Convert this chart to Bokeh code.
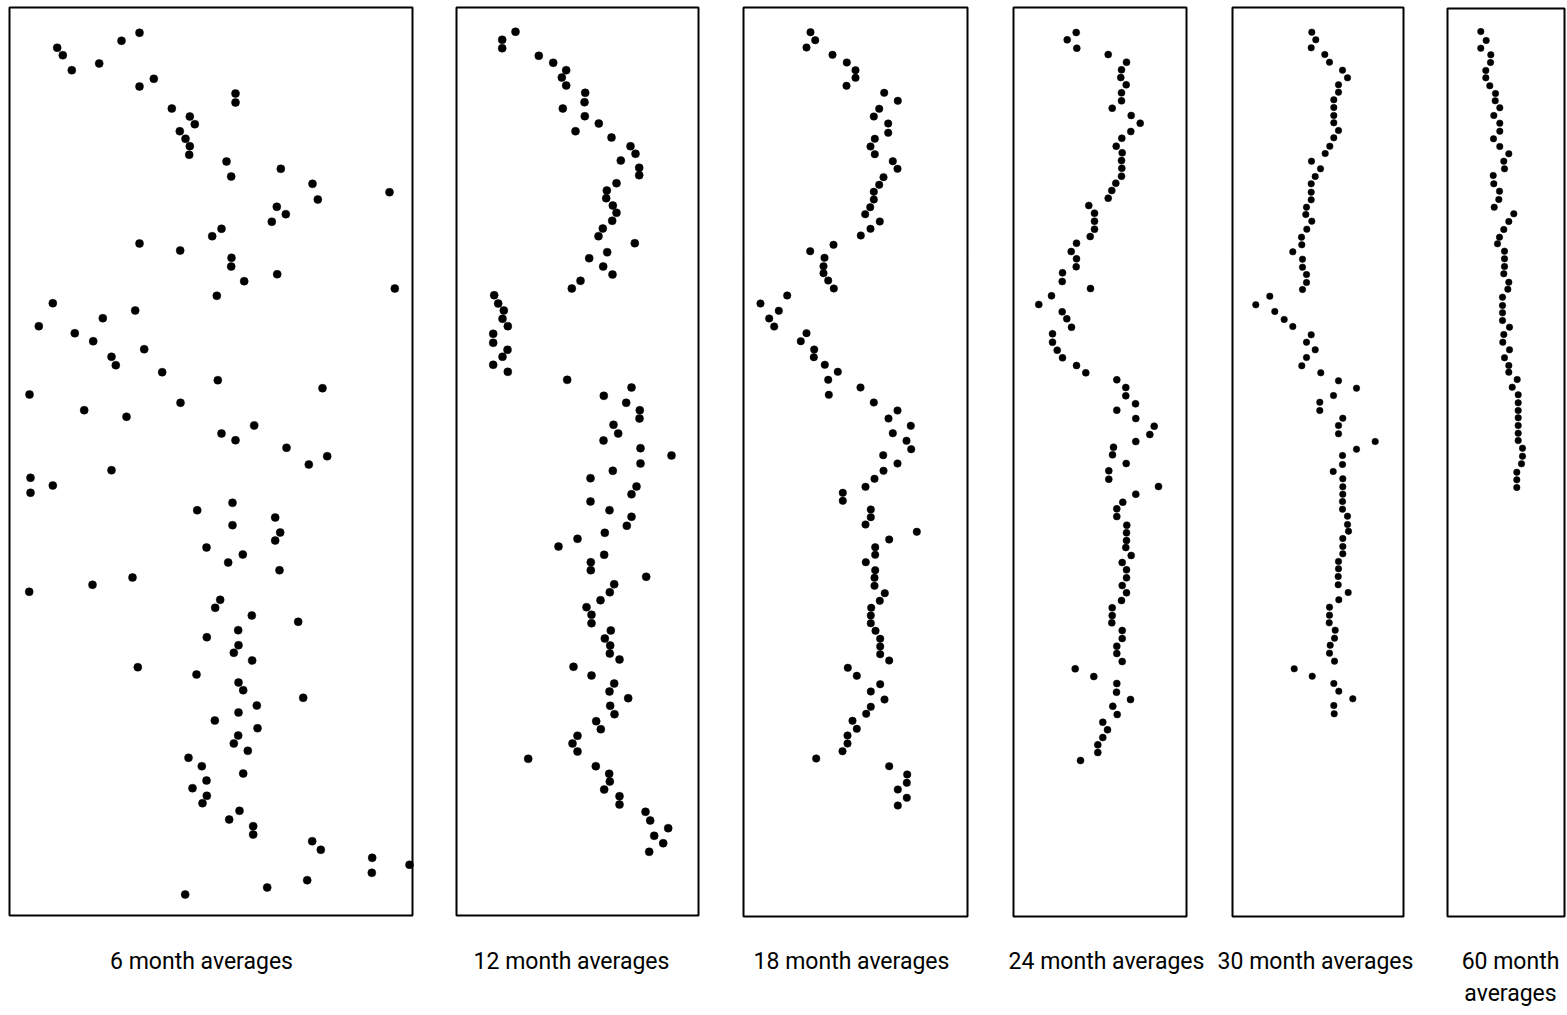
from bokeh.plotting import figure
from bokeh.models import Range1d, ColumnDataSource
from bokeh.core.properties import value
from bokeh.embed import file_html
from bokeh.resources import INLINE

# ---- data (x = value position, y = time position) ----
p1_x = [56.7, 62.3, 71.3, 98.7, 121, 139, 139, 153.3, 235, 235, 171.3, 189.3, 194.3, 179.3, 185, 189.3,
        188.7, 226, 230.7, 280.3, 312, 317.3, 389, 276.3, 285.3, 271.3, 221, 211.7, 139, 179.7, 231,
        230.7, 243.7, 276.7, 394.3, 216.3, 52.3, 38.3, 134.7, 102.3, 74.3, 92.7, 143.7, 111, 115.3,
        161.7, 217.3, 322, 29, 83.7, 180, 126, 253.7, 221, 235, 286, 326.7,
        308.3, 111, 30, 52.3, 30, 232, 196.7, 274.7, 232, 279.7, 274.7, 206, 242.3, 227.7, 279, 132,
        92, 28.7, 219.7, 214.7, 251.3, 297.7, 237.7, 206.3, 238, 233.3, 251.7, 137.3, 196, 238, 242.7,
        302.7, 256.3, 238, 214.3, 257, 237.7, 233.3, 247.3, 188, 201.3, 242.7, 206, 192, 206.3, 202,
        239, 228.7, 252.7, 252.7, 311.7, 320.3, 371.7, 409, 371.3, 306.7, 266.7, 184.7]
p1_y = [47.3, 54.7, 69.7, 63, 40.3, 32.3, 86, 78.3, 93, 102, 108, 116, 123.7, 130.7, 138.3, 145.7,
        154.3, 161, 176, 168.3, 183.3, 199, 191.7, 206.3, 213.7, 221.3, 228.3, 235.7, 243, 250, 257.3,
        266, 280.7, 273.7, 288, 295.3, 302.7, 325.7, 310, 317.7, 332.7, 340.7, 348.7, 356.3, 364.7,
        371.7, 379.7, 387.7, 394, 409.7, 402.3, 416.3, 425, 433, 439.7, 447.3, 455.7,
        464, 469.7, 477.3, 485, 492.3, 502.3, 509.7, 517, 524.7, 532, 540, 547, 554, 562, 569.7, 577,
        584.3, 591.3, 599.3, 607.3, 615, 621.3, 629.7, 636.7, 644.7, 652.3, 660, 666.7, 674, 682, 689.7,
        697.3, 705, 712, 720, 727.7, 735, 743, 750.3, 757.3, 765.7, 773, 780, 787.7, 795.3, 802.7,
        810.3, 819, 825.7, 834, 840.7, 849.3, 857.3, 864.3, 872.3, 879.7, 887, 894]

p2_x = [515, 501.7, 501.7, 538.3, 552.7, 565.7, 561.3, 565.7, 584.7, 584, 562.3, 584.3, 598.3, 575, 611,
        630, 635, 620.3, 638.7, 638.7, 616, 606.3, 605.7, 612.3, 616, 611.7, 602.3, 598, 634.3, 606.7,
        588.7, 602.7, 612, 580, 571.3, 493.7, 497.7, 503.3, 502, 507.3, 492.7, 492.7, 507, 502, 492.7,
        507.3, 566.7, 631, 603.3, 625.7, 639.3, 639, 613, 617.7, 603, 640, 671,
        640, 612.3, 590, 636, 631, 590, 609, 631, 626.3, 604.3, 577, 558, 603.7, 590.3, 590.3, 645.7,
        613.7, 609.3, 600, 586, 591, 591, 610.3, 604.3, 609.7, 609.3, 619, 573, 591, 613.7, 609, 627.7,
        609.7, 614, 595.7, 600.3, 577, 572, 577, 527.7, 595.3, 608.7, 609.3, 603.7, 619, 619, 645,
        649.7, 667.7, 653.7, 662.7, 648.7]
p2_y = [31.3, 39.3, 47.7, 55.3, 62.3, 69.7, 77, 85, 92.3, 101.7, 108, 115.7, 123, 130.7, 137, 145.7,
        153.3, 160, 167.3, 174.7, 182.7, 190, 197.7, 205, 212.3, 220.3, 228, 235.7, 242.7, 251.7, 257.7,
        266, 274, 280.3, 288, 294.7, 303, 310, 318.3, 325.7, 333.3, 342.3, 349.3, 356.3, 364.3, 371.3,
        379.3, 387, 395.3, 402.3, 409.7, 418, 424.3, 433, 440, 447.7, 455,
        463, 470.3, 477.7, 486, 493.7, 501, 509.7, 516.3, 525.3, 532.3, 538.3, 546, 554.3, 561.7,
        569.7, 576.3, 583.7, 591.7, 599.7, 606.7, 614.3, 622.7, 630, 638, 645, 653, 659, 666.3, 675,
        683, 691, 697.7, 705.3, 713.7, 720.7, 728.7, 735.3, 743, 751, 758.3, 765.7, 773.3, 781, 789,
        795.7, 804, 811.3, 820, 827.7, 835.3, 842.7, 851.3]

p3_x = [810, 814.7, 806, 832, 846.3, 855, 855, 846, 883.7, 897.3, 878.7, 873.3, 887.7, 887.7, 874.3, 870,
        874.3, 892.3, 897, 883, 878.7, 873.3, 873.3, 869.7, 864.7, 879.3, 870, 860.3, 833, 809.7, 824,
        823, 823, 827.7, 833.3, 786.7, 760, 778.3, 768.7, 773.7, 806, 800.3, 813.7, 813.3, 824.3, 837.3,
        827.7, 828.3, 860, 873.3, 897, 888, 910.3, 892.3, 906, 910.7, 882.7,
        897, 883, 874, 865, 842.3, 842.3, 870.3, 870.3, 865, 916.3, 888.7, 874.7, 874.7, 865.3, 874.7,
        874, 874, 884.3, 879.3, 870.7, 870.3, 870.3, 875, 879.7, 879.7, 879.7, 888.7, 847.3, 856.3,
        879.7, 870.3, 884, 870.3, 865.7, 852, 856.3, 847, 847, 842, 815.7, 888.7, 906.7, 906.3, 897.3,
        906.3, 897.3]
p3_y = [31.7, 39.7, 47, 54.3, 62, 69.7, 77.3, 85.3, 92.3, 100.3, 108.3, 116, 123, 132.3, 138.3, 146,
        153.7, 160.7, 168.3, 176.7, 184.3, 191.3, 199, 206.7, 213.7, 221, 228.3, 235, 244.3, 250.7, 257.3,
        265.7, 272.7, 280, 288, 295, 303, 310.3, 318, 326, 332.7, 340.7, 349, 356.7, 364.3, 371.3,
        379.3, 394.3, 387, 402, 410, 418, 425.3, 432.7, 440.3, 448.7, 454.7,
        463, 470.3, 478.3, 486.3, 492.3, 500.3, 509, 516.7, 524, 531.3, 539, 546.7, 554.3, 561.7, 569.7,
        577.3, 585.3, 592.7, 600.3, 607.3, 615, 622.7, 630.3, 638.3, 646, 653.7, 660, 667.3, 675.3,
        683.7, 691, 699, 706.3, 713.3, 720.3, 728.3, 735, 743, 750.7, 758, 765.7, 774, 782.3, 789,
        797.3, 805]

p4_x = [1075.7, 1066.7, 1076.3, 1107.7, 1126, 1121, 1120.3, 1125.7, 1121, 1121, 1111.7, 1130.7, 1139.7,
        1130.3, 1121.3, 1115.7, 1121.7, 1121, 1121.3, 1121, 1115.3, 1111.3, 1107.7, 1088.3, 1094, 1094,
        1094, 1089.7, 1076, 1070.7, 1076, 1075.7, 1062, 1061.7, 1090, 1051, 1038.3, 1061.7, 1066.3, 1071,
        1052, 1052, 1056.7, 1062, 1076, 1085.3, 1116.3, 1125.3, 1125.3, 1116.3, 1135, 1135.3, 1153.7,
        1149.3, 1135.3, 1113, 1112,
        1125.7, 1108.3, 1108.3, 1158, 1135.3, 1122.3, 1116.3, 1116.3, 1126.3, 1126, 1126, 1125.3, 1130.7,
        1121.7, 1126, 1126, 1121.7, 1126, 1121, 1111.7, 1111.7, 1111.3, 1121.7, 1121.7, 1116.3, 1116.3,
        1121.7, 1074.7, 1093.3, 1116.3, 1116, 1130, 1112.3, 1116.7, 1102.3, 1107, 1102.3, 1097.3, 1097.3,
        1080]
p4_y = [32, 39.3, 47.7, 54, 61.7, 69.3, 77, 84.3, 92.3, 100.3, 107.7, 115, 122.7, 131, 137.7, 145.7,
        152.3, 160, 167.7, 175.7, 182.7, 190, 197.7, 205, 212.7, 220.7, 228.7, 236, 242.7, 251, 258.3,
        266.3, 272.3, 281, 288, 295.3, 304, 311.3, 318.3, 326.7, 333.3, 341.7, 349.7, 357.3, 365, 372.3,
        379.3, 387, 395.3, 409.7, 403.3, 418, 425.7, 434, 441, 446.7, 454.3,
        463, 470.3, 478.7, 486, 493.7, 501.7, 508.3, 516, 524.7, 532.3, 540, 547, 555, 562, 569.3, 577.3,
        585, 592.3, 600, 607.3, 615, 622.3, 630, 638, 645.7, 653, 661, 668.3, 676, 683, 691.7, 699,
        705.7, 714, 721.7, 729.3, 737, 744.3, 752, 760]

p5_x = [1311.3, 1315.3, 1310.7, 1324.3, 1329, 1342, 1347, 1338, 1338, 1333.3, 1333.3, 1333.3, 1333.3,
        1338, 1333.3, 1329.3, 1324.7, 1311, 1320, 1314.7, 1310.7, 1310.7, 1310.7, 1306, 1305.3, 1311.3,
        1306.3, 1301, 1301.3, 1292.3, 1302, 1302, 1306, 1306, 1302, 1269.3, 1255.3, 1274.3, 1283.7,
        1292.3, 1310.7, 1306, 1314.7, 1306, 1301.3, 1320.3, 1338, 1356, 1333, 1319.3, 1319.3, 1342.3,
        1338, 1338, 1374.7, 1356, 1342,
        1342, 1332.7, 1342.3, 1342.3, 1342.3, 1342, 1342, 1347, 1347, 1348, 1342.3, 1342.3, 1342.3, 1338,
        1338, 1337.7, 1337.7, 1347.7, 1338.3, 1329, 1329, 1328.7, 1334.7, 1334, 1329.7, 1329, 1334,
        1293.7, 1311.7, 1333.3, 1338.3, 1352.3, 1333.3, 1333.7]
p5_y = [31.7, 39.3, 47.3, 54, 61.7, 69.7, 77.3, 84.3, 91.7, 99.3, 107, 115, 122.3, 130, 137.3, 145.7,
        153, 160.7, 168.3, 176, 183.3, 191.7, 199.3, 206.7, 214, 220.7, 228.7, 236.7, 244.3, 251.3,
        258.7, 266.7, 274, 282, 289, 295.7, 304.3, 311, 319, 326, 334.3, 341.7, 349.3, 357, 365.3,
        372.3, 380.3, 387.7, 395, 401.7, 410, 417.7, 425, 433.3, 441, 448.7, 455,
        464, 471, 478.3, 486.3, 493.7, 501, 508.7, 515.7, 524, 530.7, 538, 546, 553.3, 561, 568.3, 576,
        584.3, 592, 599.3, 606.7, 614.7, 622.3, 629.7, 637.7, 644.7, 652.7, 660.7, 668.3, 675.7, 683,
        690.7, 698.3, 705, 713.3]

p6_x = [1480.3, 1485.7, 1480.3, 1490.3, 1490, 1485.3, 1485.3, 1489.3, 1495, 1494.7, 1499.3, 1493.3,
        1499.3, 1499.3, 1493, 1499.3, 1508.3, 1503.3, 1504, 1492.7, 1493.3, 1499, 1498.3, 1493.7, 1513.3,
        1508.3, 1503.3, 1499, 1497, 1504, 1504, 1504, 1503.3, 1508.3, 1507.3, 1502, 1502, 1502, 1502,
        1509, 1503.3, 1502.3, 1509, 1504, 1508.3, 1508.3, 1516.7, 1511.7, 1517.7, 1517.7, 1517.7,
        1517.7, 1517.7, 1517.7, 1517.7, 1522, 1522, 1521, 1516.3, 1516.3, 1516.3]
p6_y = [31, 40, 47.7, 54.3, 62, 70, 77.3, 85.3, 93, 100.3, 107.3, 115, 122.7, 130.7, 138.3, 146, 153.3,
        160.7, 168.3, 175, 183.3, 190.7, 199, 206.7, 213.3, 221, 229, 236.7, 243.3, 250.7, 258.3, 266,
        273.3, 281.7, 288.7, 296.7, 305, 312.3, 320, 326.7, 334, 341.7, 349.3, 357.3, 365, 371.7, 379,
        386.7, 394.3, 402.3, 410, 417.3, 425, 432.7, 440, 447.7, 455.7, 463.3, 471.7, 479.3, 487]

panel_labels = ["6 month averages", "12 month averages", "18 month averages",
                "24 month averages", "30 month averages", "60 month\naverages"]

# ---- layout of the panels (frame extents in the picture's coordinate space) ----
frame_left = [9, 456, 743, 1013, 1232, 1447]
frame_right = [412, 698, 967, 1186, 1403, 1564]
frame_top = [7, 7, 7, 7, 7, 8]
frame_bottom = [915, 915, 916, 916, 916, 916]
label_x = [201, 571, 851, 1106, 1315, 1510]
label_y = [947, 947, 947, 947, 947, 947]
dot_size = [8, 8, 7.5, 7, 6.5, 6.5]

W, H = 1567, 1015
p = figure(width=W, height=H, x_range=Range1d(0, W), y_range=Range1d(H, 0),
           output_backend="svg", toolbar_location=None, min_border=0)
p.axis.visible = False
p.grid.visible = False
p.outline_line_color = None
p.background_fill_color = "white"
p.border_fill_color = "white"

p.quad(left=frame_left, right=frame_right, top=frame_top, bottom=frame_bottom,
       fill_color=None, line_color="black", line_width=2)

series = [(p1_x, p1_y), (p2_x, p2_y), (p3_x, p3_y), (p4_x, p4_y), (p5_x, p5_y), (p6_x, p6_y)]
for (xs, ys), sz in zip(series, dot_size):
    p.scatter(x=xs, y=ys, size=sz, marker="circle", fill_color="black", line_color="black",
              line_width=0.5)

src = ColumnDataSource(dict(x=label_x, y=label_y, t=panel_labels))
p.text(x="x", y="y", text="t", source=src, text_align="center", text_baseline="top",
       text_font=value("Roboto"), text_font_size="23px", text_color="black",
       text_line_height=1.2)

open("out.html", "w").write(file_html(p, INLINE))
